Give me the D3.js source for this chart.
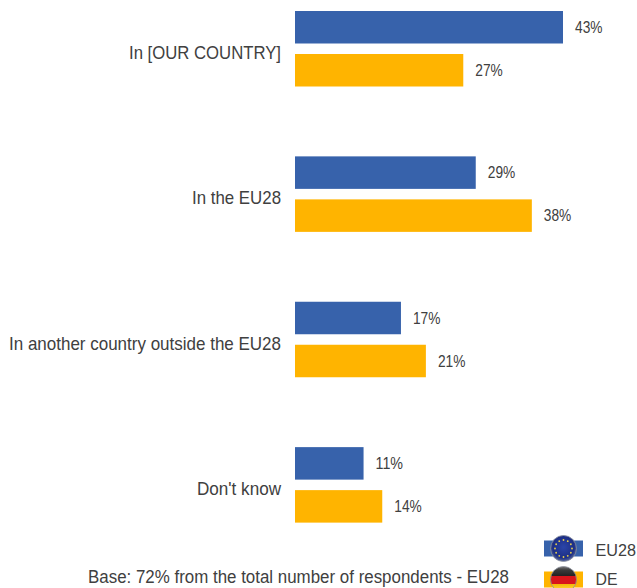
<!DOCTYPE html>
<html>
<head>
<meta charset="utf-8">
<script src="https://cdn.jsdelivr.net/npm/d3@7"></script>
<style>
html,body{margin:0;padding:0;background:#fff;overflow:hidden}
svg{display:block}
text{font-family:"Liberation Sans",Arial,sans-serif;fill:#404040;font-kerning:normal}
</style>
</head>
<body>
<svg id="chart" width="637" height="588"></svg>
<script>
const categories = ["In [OUR COUNTRY]", "In the EU28", "In another country outside the EU28", "Don't know"];
const seriesNames = ["EU28", "DE"];
const eu28Values = [43, 29, 17, 11];
const deValues = [27, 38, 21, 14];
const seriesColors = ["#3762AB", "#FFB400"];
const baseNote = "Base: 72% from the total number of respondents - EU28";

const svg = d3.select("#chart");
const defs = svg.append("defs");

const x = d3.scaleLinear().domain([0, 43]).range([295, 563]);
const y0 = d3.scaleBand().domain(categories).range([4.5, 586]).paddingInner(0).paddingOuter(0);
const y1 = d3.scalePoint().domain(seriesNames).range([6.5, 49.5]);
const barHeight = 32.5;

const series = [eu28Values, deValues];
series.forEach((values, s) => {
  const g = svg.append("g");
  const rows = categories.map((c, i) => ({c, v: values[i]}));
  g.selectAll("rect").data(rows).join("rect")
    .attr("x", x(0))
    .attr("y", d => y0(d.c) + y1(seriesNames[s]))
    .attr("width", d => x(d.v) - x(0))
    .attr("height", barHeight)
    .attr("fill", seriesColors[s]);
  g.selectAll("text").data(rows).join("text")
    .attr("x", d => x(d.v) + 12)
    .attr("y", d => y0(d.c) + y1(seriesNames[s]) + barHeight / 2 + 5.5)
    .attr("font-size", 16)
    .attr("textLength", 27.5)
    .attr("lengthAdjust", "spacingAndGlyphs")
    .text(d => d.v + "%");
});

// Category labels sit to the left of the bars, level with the gap between each pair
svg.append("g").selectAll("text").data(categories).join("text")
  .attr("x", 281)
  .attr("y", c => y0(c) + 54.5)
  .attr("text-anchor", "end")
  .attr("font-size", 18.5)
  .attr("textLength", c => ({"In [OUR COUNTRY]": 152, "In the EU28": 89, "In another country outside the EU28": 272, "Don't know": 84})[c])
  .attr("lengthAdjust", "spacingAndGlyphs")
  .text(c => c);

svg.append("text")
  .attr("x", 88).attr("y", 583)
  .attr("font-size", 17.5)
  .attr("textLength", 421)
  .attr("lengthAdjust", "spacingAndGlyphs")
  .text(baseNote);

// Flag-badge legend
const euGrad = defs.append("radialGradient").attr("id", "euBall").attr("cx", "50%").attr("cy", "45%").attr("r", "55%");
euGrad.append("stop").attr("offset", "0%").attr("stop-color", "#2b45a8");
euGrad.append("stop").attr("offset", "75%").attr("stop-color", "#1d2f86");
euGrad.append("stop").attr("offset", "100%").attr("stop-color", "#5a6a9c");

const deGrad = defs.append("linearGradient").attr("id", "deBall").attr("x1", 0).attr("x2", 0).attr("y1", 0).attr("y2", 1);
[[0, "#777"], [0.14, "#3a3a3a"], [0.36, "#222"], [0.37, "#d8151b"], [0.66, "#d8151b"], [0.67, "#f2b705"], [0.9, "#ffd83a"], [1, "#e8c050"]]
  .forEach(([o, c]) => deGrad.append("stop").attr("offset", o).attr("stop-color", c));

const legendRows = [{name: seriesNames[0], cy: 548.5, labelY: 556, fill: "url(#euBall)", color: seriesColors[0]},
                    {name: seriesNames[1], cy: 579.5, labelY: 584.5, fill: "url(#deBall)", color: seriesColors[1]}];
const legend = svg.append("g").selectAll("g").data(legendRows).join("g")
  .attr("transform", d => `translate(563.5,${d.cy})`);
legend.append("rect").attr("x", -19.5).attr("y", -8).attr("width", 39).attr("height", 16).attr("fill", d => d.color);
legend.append("circle").attr("r", 13).attr("fill", d => d.fill).attr("stroke", "#8a8f9c").attr("stroke-width", 0.8);
legend.append("text")
  .attr("x", 32)
  .attr("y", d => d.labelY - d.cy)
  .attr("font-size", 17)
  .attr("textLength", d => d.name === "EU28" ? 40.5 : 22)
  .attr("lengthAdjust", "spacingAndGlyphs")
  .text(d => d.name);

// Ring of twelve gold stars on the EU badge, one dot per month position
const starAngles = d3.range(0, 360, 30);
svg.append("g").attr("transform", "translate(563.5,548.5)")
  .selectAll("circle").data(starAngles).join("circle")
  .attr("cx", a => 8.5 * Math.cos(a * Math.PI / 180))
  .attr("cy", a => 8.5 * Math.sin(a * Math.PI / 180))
  .attr("r", 0.9).attr("fill", "#e8d04a");
</script>
</body>
</html>
